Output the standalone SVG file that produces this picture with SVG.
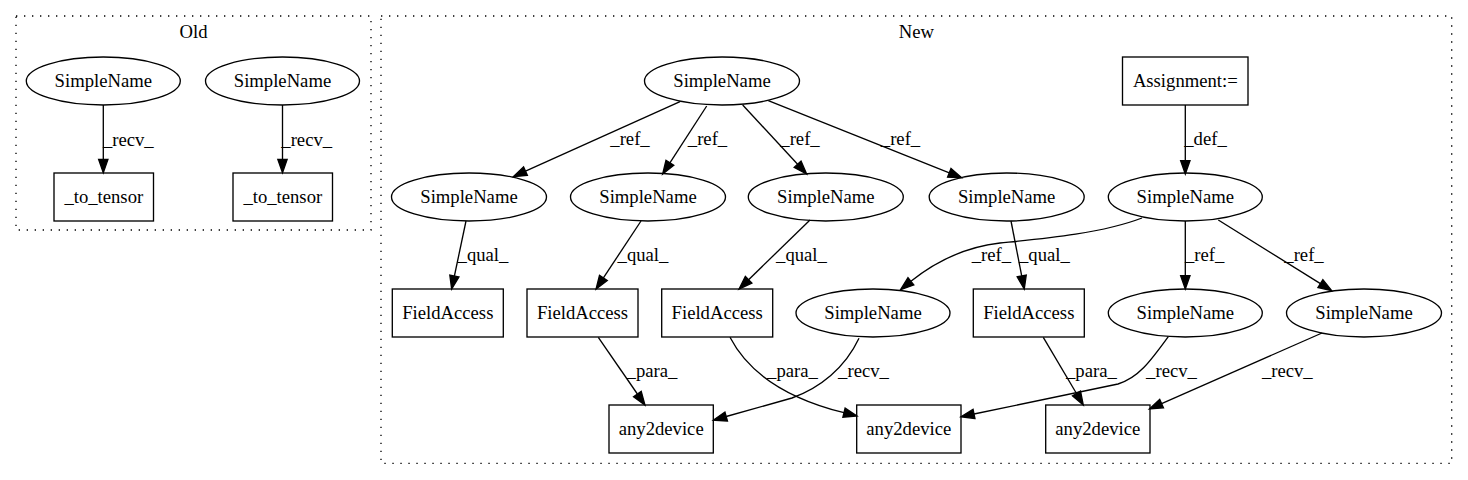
<svg xmlns="http://www.w3.org/2000/svg" width="1468" height="480" viewBox="0 0 1468 480">
<style>
text{font-family:Liberation Serif,Times New Roman,serif;font-size:18.67px;text-anchor:middle;fill:#000}
.node ellipse,.node rect{fill:none;stroke:#000;stroke-width:1.33}
.cluster{fill:none;stroke:#000;stroke-width:1.33;stroke-dasharray:1.33,6.67}
.edge path{fill:none;stroke:#000;stroke-width:1.33;marker-end:url(#arr)}
</style>
<defs>
<marker id="arr" markerUnits="userSpaceOnUse" markerWidth="16" markerHeight="12" refX="0" refY="6" orient="auto" overflow="visible">
<path d="M0,1.33 L13.33,6 L0,10.67 Z" fill="#000" stroke="#000" stroke-width="1.33"/>
</marker>
</defs>
<rect width="1468" height="480" fill="#fff"/>
<g font-family="Liberation Serif, serif" font-size="18.67" text-anchor="middle" fill="#000">
<g id="cluster_old">
<rect class="cluster" x="16" y="16" width="355" height="214"/>
<text x="193.5" y="37.5">Old</text>
</g>
<g id="cluster_new">
<rect class="cluster" x="381" y="16" width="1070.7" height="447.3"/>
<text x="916.3" y="37.5">New</text>
</g>
<g id="edges">
<g class="edge"><path d="M103.3,105 L103.3,159.4"/><text x="128.3" y="146">_recv_</text></g>
<g class="edge"><path d="M282.5,105 L282.5,159.4"/><text x="306.7" y="146">_recv_</text></g>
<g class="edge"><path d="M680,101.7 L525.5,171.2"/><text x="630" y="145">_ref_</text></g>
<g class="edge"><path d="M706.7,106 L669.9,162.8"/><text x="707.5" y="145">_ref_</text></g>
<g class="edge"><path d="M742.7,105 L797.6,164.2"/><text x="800" y="145">_ref_</text></g>
<g class="edge"><path d="M768.3,100.7 L949.3,172.8"/><text x="900.5" y="145">_ref_</text></g>
<g class="edge"><path d="M1185.3,105 L1185.3,160.7"/><text x="1205.5" y="145">_def_</text></g>
<g class="edge"><path d="M466,221 L454.4,276"/><text x="483" y="261">_qual_</text></g>
<g class="edge"><path d="M641,221 L603.4,277.9"/><text x="643" y="261">_qual_</text></g>
<g class="edge"><path d="M810,220 L748.6,279.7"/><text x="801.5" y="261">_qual_</text></g>
<g class="edge"><path d="M1011,221 L1021.7,275.9"/><text x="1044.4" y="261">_qual_</text></g>
<g class="edge"><path d="M1142,218 C1100,234 1040,239 1000,243 C965,247 935,262 910.9,281.3"/><text x="991.4" y="261">_ref_</text></g>
<g class="edge"><path d="M1185.3,221 L1185.3,275.7"/><text x="1204.7" y="261">_ref_</text></g>
<g class="edge"><path d="M1218.3,220 L1320.4,283.6"/><text x="1304" y="261">_ref_</text></g>
<g class="edge"><path d="M598.3,337.3 L637.4,394"/><text x="652" y="377">_para_</text></g>
<g class="edge"><path d="M730,337.3 C748,372 785,398 844,412.7"/><text x="792.5" y="377">_para_</text></g>
<g class="edge"><path d="M859,338.3 C845,368 820,388 792,398 L726.2,416.5"/><text x="863.5" y="377">_recv_</text></g>
<g class="edge"><path d="M1043.3,337.3 L1076.5,393.5"/><text x="1091.4" y="377">_para_</text></g>
<g class="edge"><path d="M1168.3,336.7 C1150,362 1138,378 1118,384 L974,414"/><text x="1171.5" y="377">_recv_</text></g>
<g class="edge"><path d="M1322,333 L1161.6,403.6"/><text x="1287.3" y="377">_recv_</text></g>
</g>
<g id="old_sn1" class="node"><ellipse cx="103.3" cy="81" rx="77" ry="24"/><text x="103.3" y="87">SimpleName</text></g>
<g id="old_sn2" class="node"><ellipse cx="282.5" cy="81" rx="77" ry="24"/><text x="282.5" y="87">SimpleName</text></g>
<g id="old_tt1" class="node"><rect x="54" y="173" width="99.5" height="48"/><text x="103.8" y="203">_to_tensor</text></g>
<g id="old_tt2" class="node"><rect x="233" y="173" width="99.5" height="48"/><text x="282.8" y="203">_to_tensor</text></g>
<g id="n1" class="node"><ellipse cx="722" cy="81" rx="77.5" ry="24"/><text x="722" y="87">SimpleName</text></g>
<g id="assign" class="node"><rect x="1122.5" y="57" width="125.5" height="48"/><text x="1185.3" y="87">Assignment:=</text></g>
<g id="n2" class="node"><ellipse cx="469" cy="197" rx="77.5" ry="24"/><text x="469" y="203">SimpleName</text></g>
<g id="n3" class="node"><ellipse cx="648" cy="197" rx="77.5" ry="24"/><text x="648" y="203">SimpleName</text></g>
<g id="n4" class="node"><ellipse cx="825.8" cy="197" rx="77.5" ry="24"/><text x="825.8" y="203">SimpleName</text></g>
<g id="n5" class="node"><ellipse cx="1006.7" cy="197" rx="77.5" ry="24"/><text x="1006.7" y="203">SimpleName</text></g>
<g id="n6" class="node"><ellipse cx="1185.3" cy="197" rx="77" ry="24"/><text x="1185.3" y="203">SimpleName</text></g>
<g id="fa1" class="node"><rect x="392.3" y="289" width="111" height="48"/><text x="447.8" y="319">FieldAccess</text></g>
<g id="fa2" class="node"><rect x="527" y="289" width="111" height="48"/><text x="582.5" y="319">FieldAccess</text></g>
<g id="fa3" class="node"><rect x="661.7" y="289" width="111" height="48"/><text x="717.2" y="319">FieldAccess</text></g>
<g id="n7" class="node"><ellipse cx="873" cy="313" rx="77" ry="24"/><text x="873" y="319">SimpleName</text></g>
<g id="fa4" class="node"><rect x="973.3" y="289" width="111" height="48"/><text x="1028.8" y="319">FieldAccess</text></g>
<g id="n8" class="node"><ellipse cx="1185.3" cy="313" rx="77" ry="24"/><text x="1185.3" y="319">SimpleName</text></g>
<g id="n9" class="node"><ellipse cx="1364" cy="313" rx="77.5" ry="24"/><text x="1364" y="319">SimpleName</text></g>
<g id="a1" class="node"><rect x="609" y="405" width="104.3" height="48"/><text x="661.2" y="435">any2device</text></g>
<g id="a2" class="node"><rect x="856.7" y="405" width="104.3" height="48"/><text x="908.8" y="435">any2device</text></g>
<g id="a3" class="node"><rect x="1045.7" y="405" width="104.3" height="48"/><text x="1097.8" y="435">any2device</text></g>
</g>
</svg>
